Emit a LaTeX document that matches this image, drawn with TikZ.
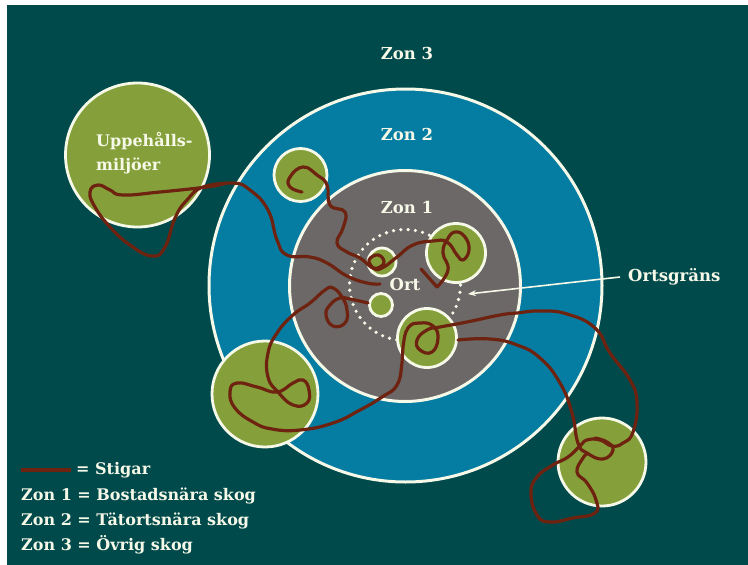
\documentclass[tikz,border=0pt]{standalone}
\usepackage{fontspec}
\usetikzlibrary{arrows.meta}
\setmainfont{DejaVu Serif}[BoldFont={DejaVu Serif Bold}]
\definecolor{bgteal}{HTML}{004A4B}
\definecolor{zontwo}{HTML}{057CA1}
\definecolor{zonone}{HTML}{6B6867}
\definecolor{skog}{HTML}{85A03A}
\definecolor{kant}{HTML}{F6F8E8}
\definecolor{stig}{HTML}{6E2210}
\tikzset{
  zone/.style={circle,draw=kant,line width=3pt,inner sep=0pt,outer sep=0pt},
  patch/.style={circle,draw=kant,fill=skog,line width=2.8pt,inner sep=0pt,outer sep=0pt},
  lbl/.style={text=kant,font=\bfseries\fontsize{16.5}{18}\selectfont,inner sep=0pt},
  legendlbl/.style={lbl,font=\bfseries\fontsize{16}{18}\selectfont,anchor=base west},
  trail/.style={draw=stig,line width=3.2pt,line cap=round,line join=round},
}
\begin{document}
\begin{tikzpicture}[x=1pt,y=-1pt]
\useasboundingbox (0,0) rectangle (748,565);
\fill[white] (0,0) rectangle (748,565);
\fill[bgteal] (7,5) rectangle (748,565);
% zones
\node[zone,fill=zontwo,minimum size=393pt] (z2) at (405.5,285.5) {};
\node[zone,fill=zonone,minimum size=231pt] (z1) at (405,286) {};
\draw[kant,line width=3.6pt,line cap=round,dash pattern=on 0pt off 7.35pt] (405,285) circle[radius=55.5];
% forest patches
\node[patch,minimum size=144pt] (p1) at (137.5,155) {};
\node[patch,minimum size=53pt] (p2) at (300.5,175) {};
\node[patch,minimum size=59pt] (p3) at (456,253) {};
\node[patch,minimum size=28pt] (p4) at (382,262) {};
\node[patch,minimum size=23pt] (p5) at (381,305) {};
\node[patch,minimum size=59pt] (p6) at (427,338) {};
\node[patch,minimum size=106pt] (p7) at (265,394) {};
\node[patch,minimum size=88pt] (p8) at (602,462) {};
% trails
\draw[trail] plot[smooth,tension=0.8] coordinates {(380,284) (367,283) (347,276) (327,263) (310,257) (287,255) (277,240) (268,210) (250,190) (233,183) (207,187) (160,192) (123,195) (110,190) (98,185) (90,192) (95,207) (110,227) (130,245) (152,256) (165,247) (175,218) (187,200) (203,187) (230,183)};
\draw[trail] plot[smooth,tension=0.8] coordinates {(302,192) (290,187) (290,177) (303,167) (317,175) (327,185) (330,205) (345,212) (343,228) (337,243) (347,252) (360,258) (373,268) (382,268) (397,257) (413,245) (433,241) (447,242) (457,255) (463,260) (469,250) (465,237) (455,232) (447,240) (443,253) (448,270) (437,287)};
\draw[trail] (437,287) -- (421,269);
\draw[trail] plot[smooth,tension=0.8] coordinates {(373,268) (369,260) (378,255) (384,262) (378,268) (371,267)};
\draw[trail] plot[smooth,tension=0.8] coordinates {(368,303) (350,299) (340,298) (330,305) (326,315) (333,326) (345,323) (347,310) (342,297) (333,288) (325,290) (310,303) (293,315) (277,333) (268,353) (268,377) (278,392) (293,405) (307,403) (309,390) (303,380) (293,383) (277,392) (257,387) (237,383) (230,392) (235,408) (253,422) (272,429) (300,430) (333,423) (360,410) (382,397) (397,385) (402,363) (403,347) (408,328) (420,323) (433,326) (438,338) (432,352) (420,350) (417,340) (427,330) (440,327) (467,322) (500,315) (517,313) (540,311) (567,314) (595,328) (610,353) (630,380) (637,403) (633,432) (623,443) (612,446) (600,440) (587,440) (580,446) (568,457) (553,465) (537,477) (531,493) (537,515) (550,522) (573,518) (595,513) (596,500) (587,483) (577,472) (583,458) (587,454)};
\draw[trail] plot[smooth,tension=0.8] coordinates {(458,340) (490,339) (517,345) (540,358) (560,383) (572,413) (578,443) (587,453) (603,459) (613,450) (607,442) (595,438)};
% labels
\node[lbl] (t3) at (407,53) {Zon 3};
\node[lbl] (t2) at (407,134) {Zon 2};
\node[lbl] (t1) at (407,207) {Zon 1};
\node[lbl] (ort) at (405,284) {Ort};
\node[lbl,anchor=west] (grans) at (628,277) {Ortsgräns};
\node[legendlbl] (u1) at (96,146) {Uppehålls-};
\node[legendlbl] (u2) at (96,170) {miljöer};
\coordinate (tip) at (468,294);
\coordinate (tail) at (620,277);
\draw[-{Stealth[length=8pt,width=6pt]},kant,line width=1.6pt] (tail) -- (tip);
% legend
\coordinate (la) at (21,470);
\coordinate (lb) at (71,470);
\draw[stig,line width=4pt] (la) -- (lb);
\node[legendlbl] (l0) at (76,474.5) {= Stigar};
\node[legendlbl] (l1) at (21,500) {Zon 1 = Bostadsnära skog};
\node[legendlbl] (l2) at (21,525) {Zon 2 = Tätortsnära skog};
\node[legendlbl] (l3) at (21,550) {Zon 3 = Övrig skog};
\end{tikzpicture}
\end{document}
